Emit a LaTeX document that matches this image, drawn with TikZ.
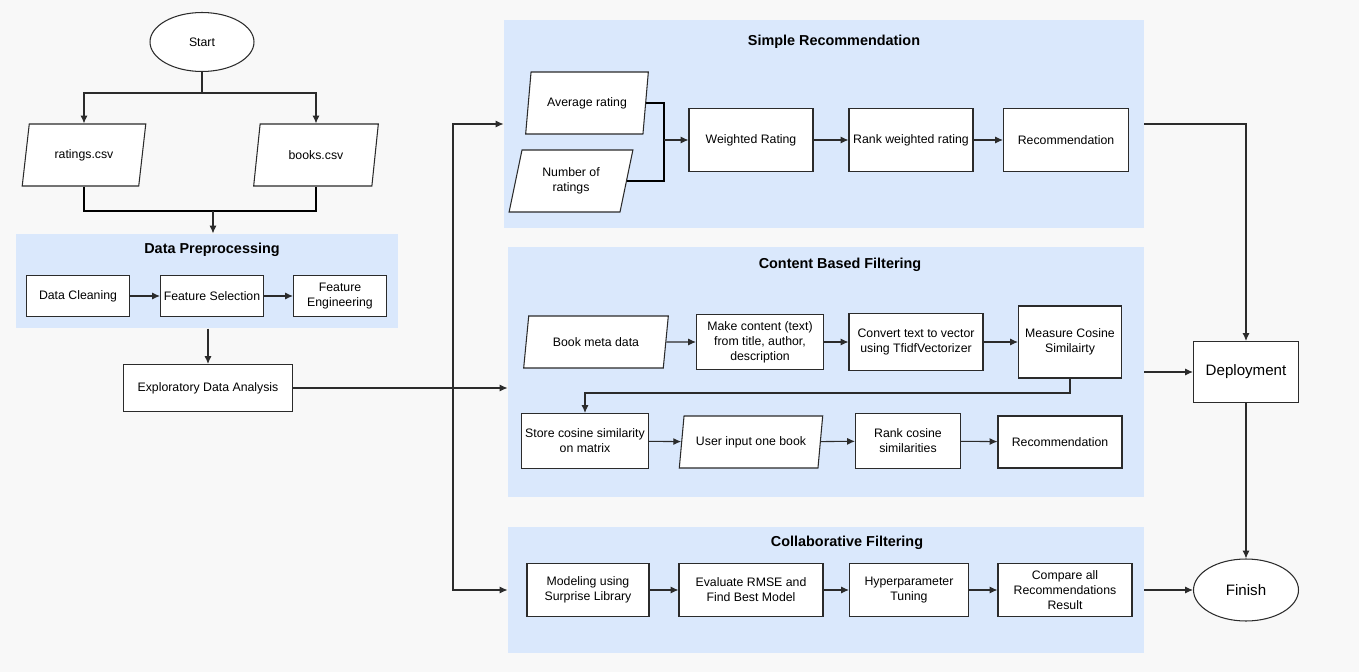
\documentclass[tikz,border=0pt]{standalone}
\usepackage{fontspec}
\setmainfont{Liberation Sans}
\usepackage{xcolor}
\usepackage{tikz}
\usetikzlibrary{shapes.geometric,arrows.meta}
\definecolor{panelblue}{HTML}{DAE8FC}
\definecolor{pagebg}{HTML}{F8F8F8}
\definecolor{boxline}{HTML}{2B2B2B}

\begin{document}
\begin{tikzpicture}
            [
                x=0.02cm, y=-0.02cm,
                line width=0.6pt,
                font=\fontsize{7}{8.5}\selectfont,
                >={Latex[length=4.5pt,width=4pt]}
            ]
            \tikzset{
                procnode/.style = {rectangle, draw=boxline, fill=white, align=center, inner sep=1pt},
                datanode/.style = {trapezium, trapezium left angle=75, trapezium right angle=105, trapezium stretches=true, draw=boxline, fill=white, align=center, inner sep=1pt},
                endnode/.style = {ellipse, draw=boxline, fill=white, inner sep=1pt},
                panelnode/.style = {rectangle, fill=panelblue, inner sep=0pt},
                titlenode/.style = {font=\fontsize{8.2}{10}\selectfont\bfseries},
                bignode/.style = {font=\fontsize{8.6}{10}\selectfont},
                flow/.style = {->, draw=boxline}
            }
            \fill[pagebg] (0,0) rectangle (1359,672);
            \node[panelnode, minimum width=7.64cm, minimum height=1.88cm] (prep) at (207,281) {};
            \node[panelnode, minimum width=12.8cm, minimum height=4.16cm] (simple) at (824,124) {};
            \node[panelnode, minimum width=12.72cm, minimum height=5cm] (content) at (826,372) {};
            \node[panelnode, minimum width=12.72cm, minimum height=2.52cm] (collab) at (826,590) {};
            \node[titlenode] (preptitle) at (212,250) {Data Preprocessing};
            \node[titlenode] (simpletitle) at (834,42) {Simple Recommendation};
            \node[titlenode] (contenttitle) at (840,265) {Content Based Filtering};
            \node[titlenode] (collabtitle) at (847,543) {Collaborative Filtering};

            \node[endnode, minimum width=2.08cm, minimum height=1.18cm] (start) at (202,42) {Start};
            \node[datanode, minimum width=2.48cm, minimum height=1.24cm] (ratings) at (84,155) {ratings.csv};
            \node[datanode, minimum width=2.5cm, minimum height=1.24cm] (books) at (316,155) {books.csv};
            \node[procnode, minimum width=2.06cm, minimum height=0.82cm] (clean) at (78,296) {Data Cleaning};
            \node[procnode, minimum width=2.06cm, minimum height=0.82cm] (select) at (212,296) {Feature Selection};
            \node[procnode, minimum width=1.86cm, minimum height=0.82cm] (engineer) at (340,296) {Feature\\Engineering};
            \node[procnode, minimum width=3.38cm, minimum height=0.94cm] (eda) at (208,388) {Exploratory Data Analysis};

            \node[datanode, minimum width=2.46cm, minimum height=1.24cm] (avgrating) at (587,103) {Average rating};
            \node[datanode, minimum width=2.48cm, minimum height=1.24cm] (numrating) at (571,181) {Number of\\ratings};
            \node[procnode, minimum width=2.48cm, minimum height=1.26cm] (weighted) at (751,140) {Weighted Rating};
            \node[procnode, minimum width=2.48cm, minimum height=1.26cm] (rankweighted) at (911,140) {Rank weighted rating};
            \node[procnode, minimum width=2.5cm, minimum height=1.26cm] (simplerec) at (1066,140) {Recommendation};

            \node[datanode, minimum width=2.9cm, minimum height=1.04cm] (metadata) at (596,342) {Book meta data};
            \node[procnode, minimum width=2.54cm, minimum height=1.1cm] (makecontent) at (760,342) {Make content (text)\\from title, author,\\description};
            \node[procnode, minimum width=2.68cm, minimum height=1.14cm] (vectorize) at (916,342) {Convert text to vector\\using TfidfVectorizer};
            \node[procnode, minimum width=2.06cm, minimum height=1.44cm] (cosine) at (1070,342) {Measure Cosine\\Similairty};
            \node[procnode, minimum width=2.54cm, minimum height=1.1cm] (store) at (585,441) {Store cosine similarity\\on matrix};
            \node[datanode, minimum width=2.88cm, minimum height=1.04cm] (userinput) at (751,442) {User input one book};
            \node[procnode, minimum width=2.1cm, minimum height=1.1cm] (rankcosine) at (908,441) {Rank cosine\\similarities};
            \node[procnode, minimum width=2.48cm, minimum height=1.04cm] (contentrec) at (1060,442) {Recommendation};

            \node[procnode, minimum width=2.44cm, minimum height=1.06cm] (modeling) at (588,590) {Modeling using\\Surprise Library};
            \node[procnode, minimum width=2.88cm, minimum height=1.06cm] (evaluate) at (751,590) {Evaluate RMSE and\\Find Best Model};
            \node[procnode, minimum width=2.38cm, minimum height=1.06cm] (tuning) at (909,590) {Hyperparameter\\Tuning};
            \node[procnode, minimum width=2.68cm, minimum height=1.06cm] (compare) at (1065,590) {Compare all\\Recommendations\\Result};

            \node[procnode, bignode, minimum width=2.1cm, minimum height=1.22cm] (deploy) at (1246,372) {Deployment};
            \node[endnode, bignode, minimum width=2.1cm, minimum height=1.24cm] (finish) at (1246,590) {Finish};

            \coordinate (fork) at (202,93);
            \coordinate (merge) at (213,211);
            \coordinate (split) at (453,388);
            \coordinate (ratingjoin) at (664,140);
            \coordinate (cosinebend) at (0,393);

            \draw[flow] (start.south) -- (fork) -| (ratings.north);
            \draw[flow] (fork) -| (books.north);
            \draw (ratings.south) |- (merge) -| (books.south);
            \draw[flow] (merge) -- (merge |- prep.north);
            \draw[flow] (clean) -- (select);
            \draw[flow] (select) -- (engineer);
            \draw[flow] (eda.north |- prep.south) -- (eda.north);
            \draw[flow] (eda.east) -- (eda.east -| content.west);
            \draw[flow] (split) |- (simple.west);
            \draw[flow] (split) |- (collab.west);

            \draw (avgrating.east) -| (ratingjoin) |- (numrating.east);
            \draw[flow] (ratingjoin) -- (weighted.west);
            \draw[flow] (weighted) -- (rankweighted);
            \draw[flow] (rankweighted) -- (simplerec);

            \draw[flow] (metadata) -- (makecontent);
            \draw[flow] (makecontent) -- (vectorize);
            \draw[flow] (vectorize) -- (cosine);
            \draw[flow] (cosine.south) -- (cosine.south |- cosinebend) -| (store.north);
            \draw[flow] (store) -- (userinput);
            \draw[flow] (userinput) -- (rankcosine);
            \draw[flow] (rankcosine) -- (contentrec);

            \draw[flow] (modeling) -- (evaluate);
            \draw[flow] (evaluate) -- (tuning);
            \draw[flow] (tuning) -- (compare);

            \draw[flow] (simple.east) -| (deploy.north);
            \draw[flow] (content.east) -- (deploy.west);
            \draw[flow] (deploy) -- (finish);
            \draw[flow] (collab.east) -- (finish.west);
        \end{tikzpicture}
\end{document}
